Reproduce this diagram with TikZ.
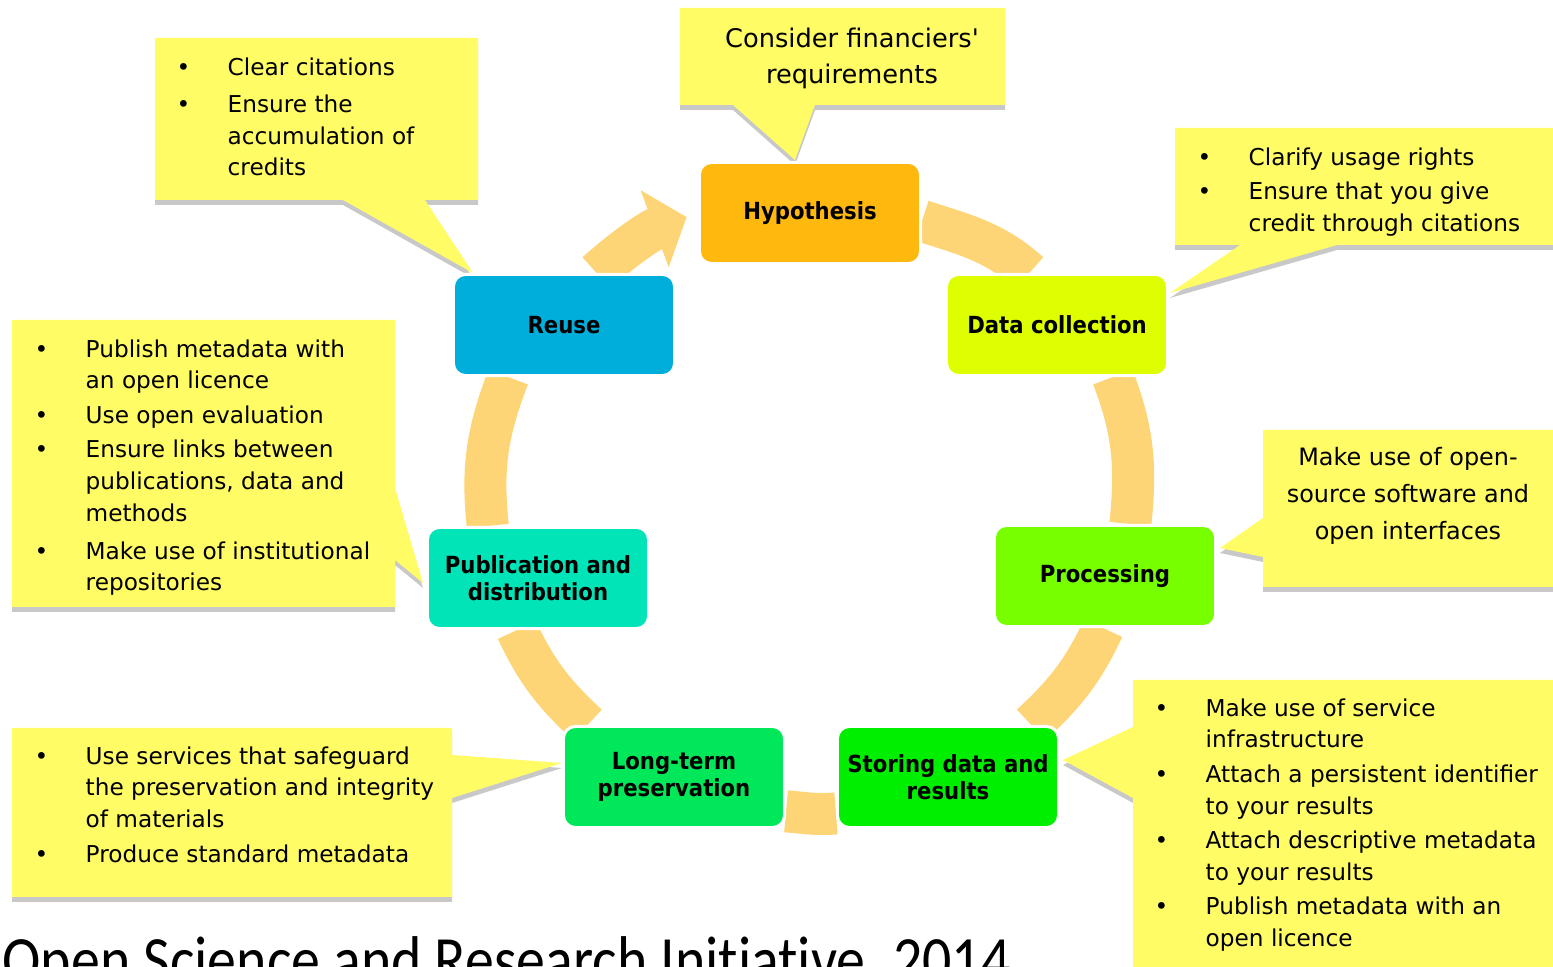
\documentclass[tikz,border=0pt]{standalone}
\usepackage{fontspec}
\setmainfont{DejaVu Sans}
\newfontfamily\callfont{DejaVu Sans}
\newfontfamily\boxfont[FakeStretch=0.9]{DejaVu Sans}
\newfontfamily\titlefont[FakeStretch=0.875, Ligatures={NoCommon}]{Carlito}
\usepackage{xcolor}
\usetikzlibrary{arrows.meta, positioning, backgrounds, shadows}

\definecolor{calloutyellow}{RGB}{255,252,102}
\definecolor{shadowgray}{RGB}{200,200,200}
\definecolor{ringorange}{RGB}{253,212,118}
\definecolor{hypcol}{RGB}{255,184,14}
\definecolor{dccol}{RGB}{221,255,0}
\definecolor{proccol}{RGB}{119,255,0}
\definecolor{storcol}{RGB}{0,238,0}
\definecolor{ltcol}{RGB}{0,232,90}
\definecolor{pubcol}{RGB}{0,228,184}
\definecolor{reusecol}{RGB}{0,174,219}

\newcommand{\bul}{\makebox[0.51cm][l]{\textbullet}}
\newcommand{\cind}{\hspace*{0.51cm}}

\begin{document}
\begin{tikzpicture}[x=0.01cm, y=0.01cm,
  stage/.style={draw=white, line width=0.03cm, rounded corners=0.12cm,
    minimum width=2.21cm, minimum height=1.01cm, inner sep=0pt, align=center,
    font=\boxfont\bfseries\fontsize{6.7}{7.7}\selectfont},
  callout/.style={fill=calloutyellow,
    drop shadow={shadow xshift=0pt, shadow yshift=-0.05cm, fill=shadowgray, opacity=1}},
  calltext/.style={inner sep=0pt, align=left, font=\callfont\fontsize{6.6}{9}\selectfont},
  ring/.style={draw=ringorange, line width=0.42cm}]
\useasboundingbox (0,0) rectangle (1553,-967);

% Callouts
\path[callout] (155,-38) -- (478,-38) -- (478,-200) -- (425,-200) -- (473,-273) -- (343,-200) -- (155,-200) -- cycle;
\path[callout] (680,-8) -- (1005,-8) -- (1005,-105) -- (815,-105) -- (795,-160) -- (733,-105) -- (680,-105) -- cycle;
\path[callout] (1175,-128) -- (1553,-128) -- (1553,-245) -- (1337,-245) -- (1170,-293) -- (1240,-245) -- (1175,-245) -- cycle;
\path[callout] (12,-320) -- (395,-320) -- (395,-488) -- (423,-583) -- (395,-560) -- (395,-607) -- (12,-607) -- cycle;
\path[callout] (1263,-430) -- (1553,-430) -- (1553,-587) -- (1263,-587) -- (1263,-557) -- (1220,-548) -- (1263,-518) -- cycle;
\path[callout] (12,-728) -- (452,-728) -- (452,-755) -- (562,-763) -- (452,-798) -- (452,-897) -- (12,-897) -- cycle;
\path[callout] (1133,-680) -- (1553,-680) -- (1553,-990) -- (1133,-990) -- (1133,-798) -- (1063,-760) -- (1133,-727) -- cycle;

% Callout texts
\node[calltext, anchor=north west] (credits) at (176,-57)
  {\bul Clear citations\\[1.6pt]\bul Ensure the\\\cind accumulation of\\\cind credits};
\node[calltext, align=center, anchor=north, font=\callfont\fontsize{7.3}{10.2}\selectfont] (financiers) at (852,-27)
  {Consider financiers'\\requirements};
\node[calltext, anchor=north west] (rights) at (1197,-147)
  {\bul Clarify usage rights\\[0.8pt]\bul Ensure that you give\\\cind credit through citations};
\node[calltext, anchor=north west] (publish) at (34,-339)
  {\bul Publish metadata with\\\cind an open licence\\[0.8pt]\bul Use open evaluation\\[0.8pt]\bul Ensure links between\\\cind publications, data and\\\cind methods\\[1.8pt]\bul Make use of institutional\\\cind repositories};
\node[calltext, align=center, anchor=north, font=\callfont\fontsize{6.8}{10.5}\selectfont] (opensource) at (1408,-447)
  {Make use of open-\\source software and\\open interfaces};
\node[calltext, anchor=north west] (safeguard) at (34,-746)
  {\bul Use services that safeguard\\\cind the preservation and integrity\\\cind of materials\\[0.8pt]\bul Produce standard metadata};
\node[calltext, anchor=north west] (service) at (1154,-698)
  {\bul Make use of service\\\cind infrastructure\\[0.8pt]\bul Attach a persistent identifier\\\cind to your results\\[0.8pt]\bul Attach descriptive metadata\\\cind to your results\\[0.8pt]\bul Publish metadata with an\\\cind open licence};

% Stages of the cycle
\node[stage, fill=hypcol] (hyp) at (810,-213) {Hypothesis};
\node[stage, fill=dccol] (dc) at (1057,-325) {Data collection};
\node[stage, fill=proccol] (proc) at (1105,-576) {Processing};
\node[stage, fill=storcol] (stor) at (948,-777) {Storing data and\\results};
\node[stage, fill=ltcol] (lt) at (674,-777) {Long-term\\preservation};
\node[stage, fill=pubcol] (pub) at (538,-578) {Publication and\\distribution};
\node[stage, fill=reusecol] (reuse) at (564,-325) {Reuse};

% Ring behind the stages
\begin{scope}[on background layer]
\draw[ring] (hyp.-4) to[out=-18, in=138] (dc.118);
\draw[ring] (dc.-43) to[out=-69, in=84] (proc.64);
\draw[ring] (proc.-92) to[out=-115, in=43] (stor.32);
\draw[ring] (stor.198) to[out=185, in=-5] (lt.-17);
\draw[ring] (lt.149) to[out=137, in=-65] (pub.-112);
\draw[ring] (pub.134) to[out=96, in=-111] (reuse.-137);
\draw[ring, -{Triangle[width=0.8cm, length=0.34cm]}, shorten >=0.12cm] (reuse.58) to[out=42, in=200] (hyp.west);
\end{scope}

% Source
\node[anchor=base west, inner sep=0pt, font=\titlefont\fontsize{18.8}{22}\selectfont] (source) at (2,-983)
  {Open Science and Research Initiative, 2014};
\end{tikzpicture}
\end{document}
